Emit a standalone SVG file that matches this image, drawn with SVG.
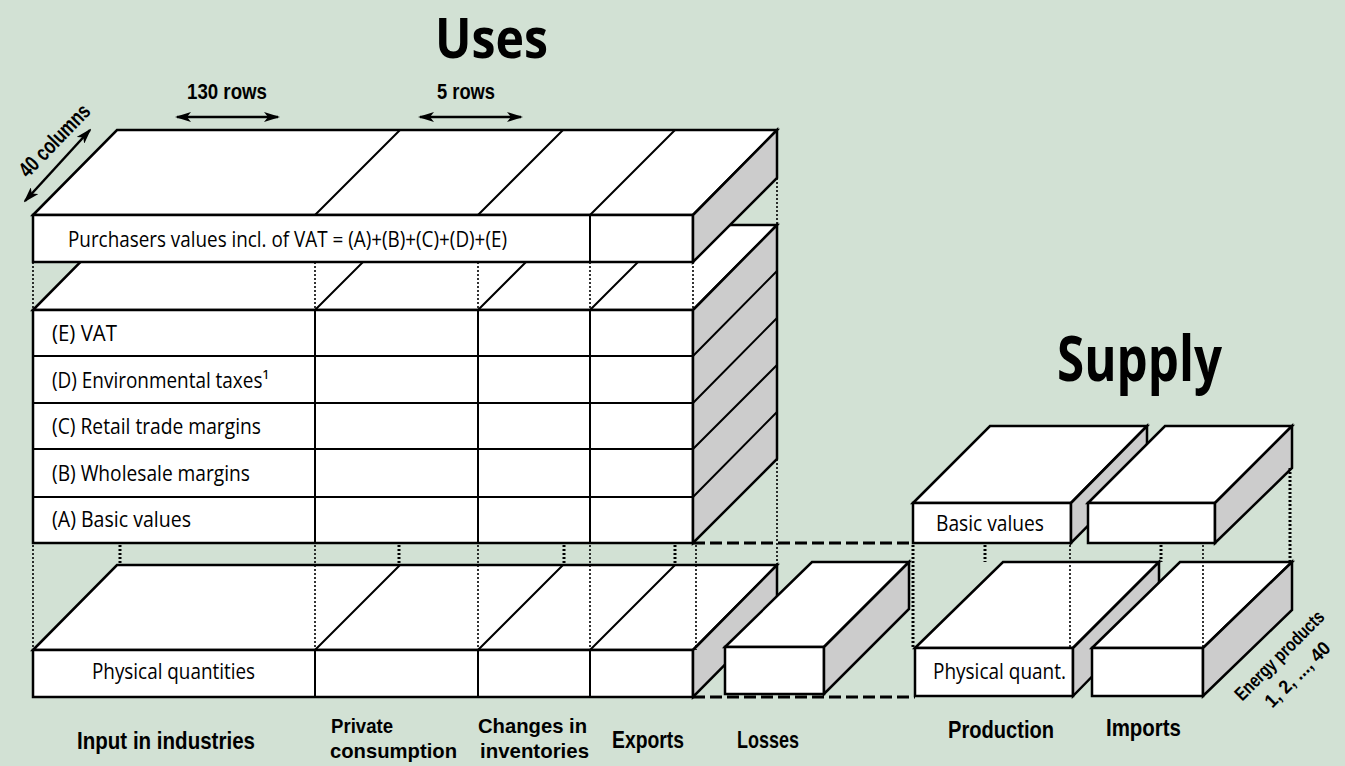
<svg xmlns="http://www.w3.org/2000/svg" width="1345" height="766" viewBox="0 0 1345 766">
<defs>
<style>
.bg{fill:#d2e1d4}
.w{fill:#ffffff;stroke:#000;stroke-width:2.5;stroke-linejoin:miter}
.g{fill:#cccccc;stroke:#000;stroke-width:2.5;stroke-linejoin:miter}
.ln{fill:none;stroke:#000;stroke-width:2}
.dot{fill:none;stroke:#000;stroke-width:1.6;stroke-dasharray:2 2}
.dotb{fill:none;stroke:#000;stroke-width:3;stroke-dasharray:2 2}
.dash{fill:none;stroke:#000;stroke-width:3;stroke-dasharray:12 5}
.arr{fill:none;stroke:#000;stroke-width:2.5;marker-start:url(#ah);marker-end:url(#ah)}
.t{font-family:"Open Sans","Liberation Sans",sans-serif;font-size:21px;fill:#000}
.b{font-family:"Liberation Sans","Open Sans",sans-serif;font-weight:bold;font-size:24px;fill:#000}
.h{font-family:"Open Sans","Liberation Sans",sans-serif;font-weight:bold;font-size:56px;fill:#000}
</style>
<marker id="ah" markerUnits="userSpaceOnUse" markerWidth="16" markerHeight="10" viewBox="0 0 16 10" refX="14" refY="5" orient="auto-start-reverse">
<path d="M0,0 L16,5 L0,10 L4,5 z" fill="#000"/>
</marker>
</defs>
<rect class="bg" x="0" y="0" width="1345" height="766"/>

<g id="connectors-back">
<path class="dash" d="M693,543 H913 M693,697 H915"/>
</g>

<g id="uses-physical">
<polygon class="w" points="33,650 117,565 777,565 693,650"/>
<rect class="w" x="33" y="650" width="660" height="47"/>
<polygon class="g" points="693,650 777,565 777,612 693,697"/>
<path class="ln" d="M315,650 V697 M478,650 V697 M590,650 V697 M315,650 L400,565 M478,650 L563,565 M590,650 L675,565"/>
<text class="t" x="92" y="679" textLength="163" lengthAdjust="spacingAndGlyphs">Physical quantities</text>
</g>

<g id="losses">
<polygon class="w" points="725,647 812,562 909,562 824,647"/>
<rect class="w" x="725" y="647" width="99" height="47"/>
<polygon class="g" points="824,647 909,562 909,609 824,694"/>
</g>

<g id="uses-stack">
<polygon class="w" points="33,310 117,225 777,225 693,310"/>
<rect class="w" x="33" y="310" width="660" height="233"/>
<polygon class="g" points="693,310 777,225 777,459 693,543"/>
<path class="ln" d="M33,356 H693 M33,403 H693 M33,449 H693 M33,497 H693 M315,310 V543 M478,310 V543 M590,310 V543 M315,310 L400,225 M478,310 L563,225 M590,310 L675,225 M693,356 L777,271 M693,403 L777,318 M693,449 L777,365 M693,497 L777,412"/>
<text class="t" x="52" y="341" textLength="65" lengthAdjust="spacingAndGlyphs">(E) VAT</text>
<text class="t" x="52" y="388" textLength="217" lengthAdjust="spacingAndGlyphs">(D) Environmental taxes¹</text>
<text class="t" x="52" y="434" textLength="209" lengthAdjust="spacingAndGlyphs">(C) Retail trade margins</text>
<text class="t" x="52" y="481" textLength="198" lengthAdjust="spacingAndGlyphs">(B) Wholesale margins</text>
<text class="t" x="52" y="527" textLength="139" lengthAdjust="spacingAndGlyphs">(A) Basic values</text>
</g>

<g id="uses-purchasers">
<polygon class="w" points="33,215 117,130 777,130 693,215"/>
<rect class="w" x="33" y="215" width="660" height="47"/>
<polygon class="g" points="693,215 777,130 777,178 693,262"/>
<path class="ln" d="M590,215 V262 M315,215 L400,130 M478,215 L563,130 M590,215 L675,130"/>
<text class="t" x="68" y="247" textLength="439" lengthAdjust="spacingAndGlyphs">Purchasers values incl. of VAT = (A)+(B)+(C)+(D)+(E)</text>
</g>

<g id="supply-phys-production">
<polygon class="w" points="915,648 1003,562 1159,562 1073,648"/>
<rect class="w" x="915" y="648" width="158" height="48"/>
<polygon class="g" points="1073,648 1159,562 1159,608 1073,696"/>
<text class="t" x="933" y="679" textLength="133" lengthAdjust="spacingAndGlyphs">Physical quant.</text>
</g>
<g id="supply-phys-imports">
<polygon class="w" points="1092,648 1180,562 1292,562 1203,648"/>
<rect class="w" x="1092" y="648" width="111" height="48"/>
<polygon class="g" points="1203,648 1292,562 1292,610 1203,696"/>
</g>
<g id="supply-basic-production">
<polygon class="w" points="913,503 990,426 1147,426 1071,503"/>
<rect class="w" x="913" y="503" width="158" height="40"/>
<polygon class="g" points="1071,503 1147,426 1147,466 1071,543"/>
<text class="t" x="936" y="531" textLength="108" lengthAdjust="spacingAndGlyphs">Basic values</text>
</g>
<g id="supply-basic-imports">
<polygon class="w" points="1088,503 1165,426 1292,426 1215,503"/>
<rect class="w" x="1088" y="503" width="127" height="40"/>
<polygon class="g" points="1215,503 1292,426 1292,468 1215,543"/>
</g>

<g id="connectors">
<path class="dot" d="M33,262 V310 M315,262 V310 M478,262 V310 M590,262 V310 M693,262 V310 M777,178 V225"/>
<path class="dot" d="M33,545 V650 M315,545 V650 M478,545 V650 M590,545 V650 M696,545 V650 M777,459 V565"/>
<path class="dotb" d="M120,545 V565 M399,545 V565 M564,545 V565 M675,545 V565"/>
<path class="dotb" d="M913,545 V648 M985,545 V562 M1161,545 V562 M1290,468 V562"/>
<path class="dot" d="M1070,545 V648 M1203,545 V648"/>
<path class="arr" d="M177,117 H278"/>
<path class="arr" d="M420,117 H521"/>
<path class="arr" d="M25,201 L90,130"/>
</g>

<g id="labels">
<text class="h" x="435" y="58" textLength="113" lengthAdjust="spacingAndGlyphs">Uses</text>
<text class="h" x="1057" y="381" style="font-size:62px" textLength="165" lengthAdjust="spacingAndGlyphs">Supply</text>
<text class="b" x="187" y="99" style="font-size:22px" textLength="80" lengthAdjust="spacingAndGlyphs">130 rows</text>
<text class="b" x="437" y="99" style="font-size:22px" textLength="58" lengthAdjust="spacingAndGlyphs">5 rows</text>
<text class="b" transform="translate(54,140) rotate(-46)" x="0" y="8" text-anchor="middle" style="font-size:22px" textLength="92" lengthAdjust="spacingAndGlyphs">40 columns</text>
<text class="b" transform="translate(1279,655) rotate(-45)" x="0" y="7" text-anchor="middle" style="font-size:19px" textLength="118" lengthAdjust="spacingAndGlyphs">Energy products</text>
<text class="b" transform="translate(1297,674) rotate(-45)" x="0" y="7" text-anchor="middle" style="font-size:19px" textLength="84" lengthAdjust="spacingAndGlyphs">1, 2, ..., 40</text>
<text class="b" x="77" y="749" textLength="178" lengthAdjust="spacingAndGlyphs">Input in industries</text>
<text class="b" x="331" y="733" style="font-size:21px" textLength="62" lengthAdjust="spacingAndGlyphs">Private</text>
<text class="b" x="330" y="758" style="font-size:21px" textLength="127" lengthAdjust="spacingAndGlyphs">consumption</text>
<text class="b" x="478" y="733" style="font-size:21px" textLength="109" lengthAdjust="spacingAndGlyphs">Changes in</text>
<text class="b" x="480" y="758" style="font-size:21px" textLength="109" lengthAdjust="spacingAndGlyphs">inventories</text>
<text class="b" x="612" y="748" textLength="72" lengthAdjust="spacingAndGlyphs">Exports</text>
<text class="b" x="737" y="748" textLength="62" lengthAdjust="spacingAndGlyphs">Losses</text>
<text class="b" x="948" y="738" textLength="106" lengthAdjust="spacingAndGlyphs">Production</text>
<text class="b" x="1106" y="736" textLength="75" lengthAdjust="spacingAndGlyphs">Imports</text>
</g>
</svg>
